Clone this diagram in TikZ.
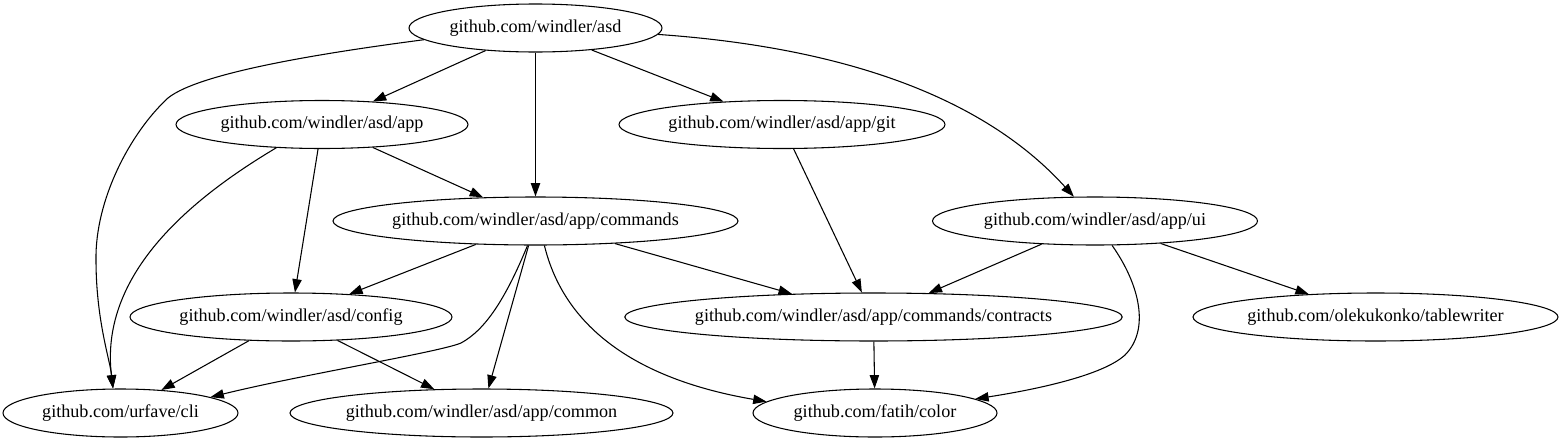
\documentclass[tikz,border=0pt]{standalone}
\usepackage{fontspec}
\setmainfont{Liberation Serif}
\usetikzlibrary{positioning, arrows.meta, shapes.geometric}
\tikzset{
  % --- package nodes (graphviz-like ellipses) ---
  gopkg/.style={
    draw, ellipse, inner xsep=-2pt, inner ysep=0pt, minimum height=36pt,
    font=\fontsize{13.6pt}{16pt}\selectfont, line width=0.8pt,
  },
  % --- import relations ---
  imports/.style={-{Triangle[length=10pt, width=7pt]}, line width=0.8pt},
}

\begin{document}
\begin{tikzpicture}[x=0.75pt, y=-0.75pt]
    \useasboundingbox (0,0) rectangle (1563,443);

    % ---- Root module ----
    \node[gopkg, minimum width=189.75pt] (asd) at (535.5,28) {github.com/windler/asd};

    % ---- Second rank ----
    \node[gopkg, minimum width=219pt] (app) at (322,124.5) {github.com/windler/asd/app};
    \node[gopkg, minimum width=244.5pt] (git) at (782,124.5) {github.com/windler/asd/app/git};

    % ---- Third rank ----
    \node[gopkg, minimum width=303.75pt] (cmds) at (535.5,221) {github.com/windler/asd/app/commands};
    \node[gopkg, minimum width=243.75pt] (ui) at (1095,221) {github.com/windler/asd/app/ui};

    % ---- Fourth rank ----
    \node[gopkg, minimum width=241.5pt] (config) at (291,317) {github.com/windler/asd/config};
    \node[gopkg, minimum width=372.75pt] (contracts) at (873.5,317) {github.com/windler/asd/app/commands/contracts};
    \node[gopkg, minimum width=273.75pt] (tablewriter) at (1375.5,317) {github.com/olekukonko/tablewriter};

    % ---- Leaves ----
    \node[gopkg, minimum width=176.25pt] (cli) at (120.5,413) {github.com/urfave/cli};
    \node[gopkg, minimum width=287.25pt] (common) at (481.5,413) {github.com/windler/asd/app/common};
    \node[gopkg, minimum width=183pt] (color) at (875,413) {github.com/fatih/color};

    % ---- Imports of the root ----
    \draw[imports] (asd) -- (app);
    \draw[imports] (asd) -- (cmds);
    \draw[imports] (asd) -- (git);
    \draw[imports] (asd.-3) .. controls (880,50) and (1000,115) .. (ui.131);
    \draw[imports] (asd.186) .. controls (330,52) and (200,72) .. (168,98)
      .. controls (130,133) and (95,200) .. (96,260)
      .. controls (96,320) and (110,360) .. (cli.107);

    % ---- Imports of app / git ----
    \draw[imports] (app.207) .. controls (180,205) and (100,280) .. (cli.107);
    \draw[imports] (app) -- (config);
    \draw[imports] (app) -- (cmds);
    \draw[imports] (git) -- (contracts);

    % ---- Imports of commands ----
    \draw[imports] (cmds) -- (config);
    \draw[imports] (cmds) -- (contracts);
    \draw[imports] (cmds.252) .. controls (505,300) and (485,330) .. (461,343)
      .. controls (440,352) and (300,375) .. (cli.10);
    \draw[imports] (cmds) -- (common);
    \draw[imports] (cmds.290) .. controls (565,330) and (640,380) .. (color.174);

    % ---- Imports of ui ----
    \draw[imports] (ui) -- (contracts);
    \draw[imports] (ui.305) .. controls (1140,285) and (1150,330) .. (1125,355)
      .. controls (1100,378) and (1020,392) .. (color.8);
    \draw[imports] (ui) -- (tablewriter);

    % ---- Lower ranks ----
    \draw[imports] (config) -- (cli);
    \draw[imports] (config) -- (common);
    \draw[imports] (contracts) -- (color);
\end{tikzpicture}
\end{document}
